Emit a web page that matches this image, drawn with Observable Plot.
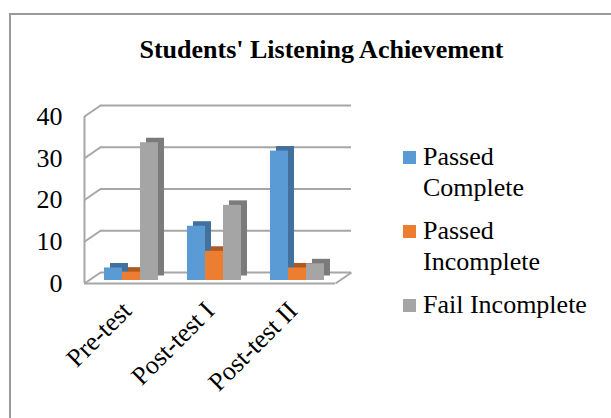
<!DOCTYPE html>
<html>
<head>
<meta charset="utf-8">
<script src="https://cdn.jsdelivr.net/npm/d3@7"></script>
<script src="https://cdn.jsdelivr.net/npm/@observablehq/plot@0.6"></script>
<style>
  html, body { margin: 0; padding: 0; background: #fff; }
  #root { position: relative; width: 611px; height: 418px; overflow: hidden; font-family: "Liberation Serif", "Times New Roman", serif; }
  #border { position: absolute; left: 9px; top: 13px; width: 700px; height: 500px; border-left: 2px solid #9a9a9a; border-top: 2px solid #9a9a9a; box-sizing: border-box; }
  #title { position: absolute; left: 16px; top: 35px; width: 611px; text-align: center; font-weight: bold; font-size: 26px; line-height: 30px; color: #000; }
  .layer { position: absolute; left: 0; top: 80px; }
  #legend { position: absolute; left: 403px; top: 0; }
  .item { position: absolute; left: 0; width: 200px; font-size: 26px; line-height: 30.7px; color: #000; font-family: "Liberation Serif", "Times New Roman", serif; }
  .sw { position: absolute; left: 0; top: 9px; width: 13px; height: 13px; }
  .lab { position: absolute; left: 20px; top: 0; width: 168px; }
</style>
</head>
<body>
<div id="root">
  <div id="border"></div>
  <div id="title"></div>
  <div id="bg" class="layer"></div>
  <div id="fg" class="layer"></div>
  <div id="legend"></div>
</div>
<script>
const title = "Students' Listening Achievement";
const categories = ["Pre-test", "Post-test I", "Post-test II"];
const series = ["Passed Complete", "Passed Incomplete", "Fail Incomplete"];
const passedComplete = [3, 13, 31];
const passedIncomplete = [2, 7, 3];
const failIncomplete = [33, 18, 4];
const yTicks = [0, 10, 20, 30, 40];
const colors = ["#5b9bd5", "#ed7d31", "#a5a5a5"];
const sideColors = ["#41719c", "#ae5a21", "#7b7b7b"];

const valuesBySeries = [passedComplete, passedIncomplete, failIncomplete];
const rows = categories.flatMap((c, i) => series.map((s, j) => ({category: c, series: s, value: valuesBySeries[j][i]})));

document.getElementById("title").textContent = title;

// layout
const W = 611, H = 338, ML = 84, MR = 276, MT = 36, MB = 135;
const yMax = 40;
const DEPTH = {x: 16, y: 11};       // back wall offset in px
const BAR_OFF = {x: 4, y: 3};       // bar front face offset in px
const BAR_DEPTH = {x: 6, y: 4.5};   // bar thickness in px
const pxPerCat = (W - ML - MR) / categories.length;
const pxPerUnit = (H - MT - MB) / yMax;
const dX = DEPTH.x / pxPerCat, dY = DEPTH.y / pxPerUnit;
const font = {fontFamily: "Liberation Serif, Times New Roman, serif", fontSize: "26px", color: "#000", background: "transparent", overflow: "visible"};
const grid = "#a6a6a6";
const n = categories.length;

const bg = Plot.plot({
  width: W, height: H, marginLeft: ML, marginRight: MR, marginTop: MT, marginBottom: MB,
  style: font,
  x: {type: "linear", domain: [0, n], axis: null},
  y: {domain: [0, yMax], ticks: yTicks, tickSize: 0, tickPadding: 22, label: null, tickFormat: d => String(d)},
  marks: [
    Plot.ruleY(yTicks, {y: d => d + dY, x1: dX, x2: n + dX, stroke: grid, strokeWidth: 2}),
    Plot.link(yTicks, {x1: 0, y1: d => d, x2: dX, y2: d => d + dY, stroke: grid, strokeWidth: 2}),
    Plot.ruleX([0], {y1: 0, y2: yMax, stroke: grid, strokeWidth: 2}),
    Plot.ruleY([0], {x1: 0, x2: n, stroke: grid, strokeWidth: 2}),
    Plot.link([0], {x1: n, y1: 0, x2: n + dX, y2: dY, stroke: grid, strokeWidth: 2})
  ]
});
document.getElementById("bg").appendChild(bg);

const fg = Plot.plot({
  width: W, height: H, marginLeft: ML, marginRight: MR, marginTop: MT, marginBottom: MB,
  style: font,
  fx: {domain: categories, padding: 0, axis: "bottom", tickRotate: -45, tickSize: 0, tickPadding: 23, label: null},
  x: {domain: series, paddingInner: 0, paddingOuter: 0.78, axis: null},
  y: {domain: [0, yMax], axis: null},
  marks: [
    Plot.barY(rows, {fx: "category", x: "series", y: "value",
      fill: d => sideColors[series.indexOf(d.series)],
      dx: BAR_OFF.x + BAR_DEPTH.x, dy: -(BAR_OFF.y + BAR_DEPTH.y)}),
    Plot.barY(rows, {fx: "category", x: "series", y: "value",
      fill: d => colors[series.indexOf(d.series)],
      dx: BAR_OFF.x, dy: -BAR_OFF.y})
  ]
});
document.getElementById("fg").appendChild(fg);

// legend
const legend = document.getElementById("legend");
const itemTops = [142, 216, 290];
series.forEach((s, i) => {
  const it = document.createElement("div");
  it.className = "item";
  it.style.top = itemTops[i] + "px";
  const sw = document.createElement("div");
  sw.className = "sw";
  sw.style.background = colors[i];
  const lab = document.createElement("div");
  lab.className = "lab";
  lab.textContent = s;
  it.appendChild(sw); it.appendChild(lab);
  legend.appendChild(it);
});
</script>
</body>
</html>
